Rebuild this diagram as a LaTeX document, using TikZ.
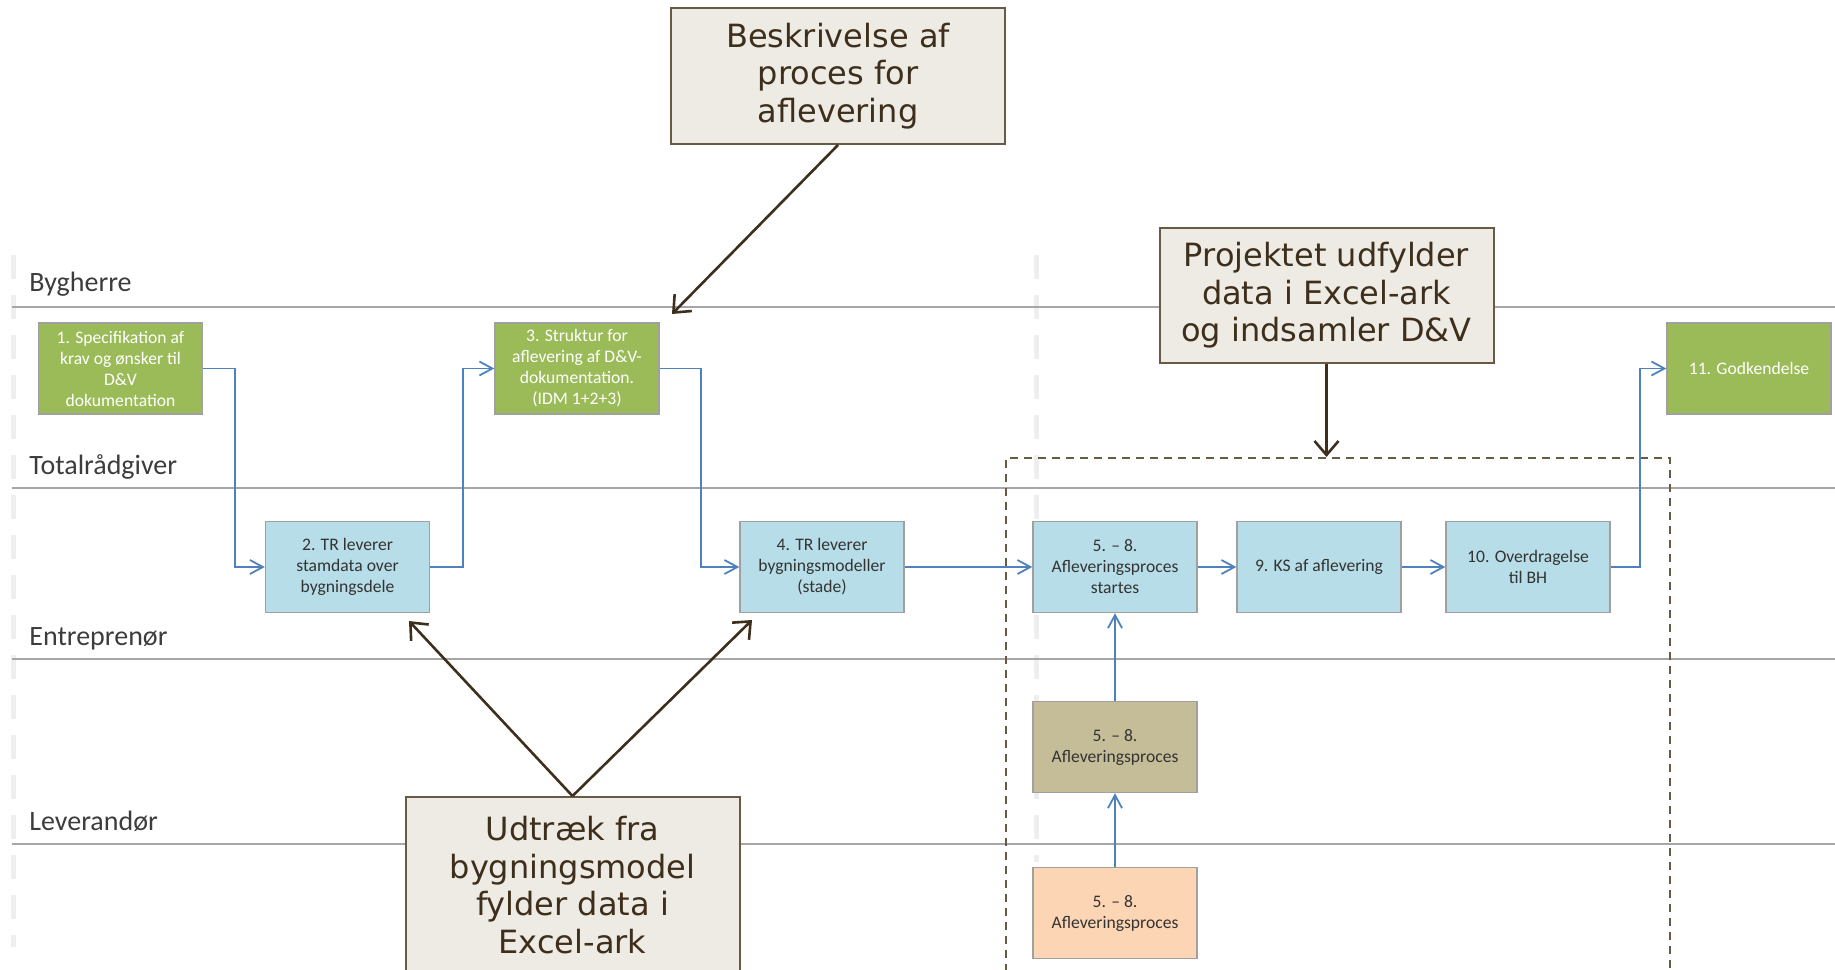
\documentclass[tikz,border=0pt]{standalone}
\usepackage{fontspec}
\setmainfont{Carlito}
\newfontfamily\callfont{DejaVu Sans}
\usetikzlibrary{arrows.meta,calc}
\definecolor{lane}{RGB}{166,166,166}
\definecolor{flowblue}{RGB}{79,129,189}
\definecolor{grn}{RGB}{155,187,89}
\definecolor{lblue}{RGB}{183,222,232}
\definecolor{olivebox}{RGB}{196,189,151}
\definecolor{peachbox}{RGB}{252,213,181}
\definecolor{callfill}{RGB}{238,235,228}
\definecolor{callline}{RGB}{105,90,70}
\definecolor{calltext}{RGB}{61,47,28}
\definecolor{boxline}{RGB}{160,160,160}
\definecolor{faint}{RGB}{238,238,238}
\definecolor{lanetext}{RGB}{60,60,60}
\begin{document}
\begin{tikzpicture}[x=0.5pt,y=-0.5pt,
  proc/.style={draw=boxline, line width=0.7pt, minimum width=82pt, minimum height=45.5pt,
    inner sep=1pt, align=center, font=\fontsize{8.8}{10.5}\selectfont, text=black!80},
  gbox/.style={proc, fill=grn, text=white},
  bbox/.style={proc, fill=lblue},
  obox/.style={proc, fill=olivebox},
  pbox/.style={proc, fill=peachbox},
  callout/.style={draw=callline, fill=callfill, line width=1pt, text=calltext,
    font=\callfont\fontsize{16}{18.75}\selectfont, align=center, inner sep=0pt,
    minimum width=167pt},
  flow/.style={draw=flowblue, line width=0.9pt, -{Straight Barb[length=6.5pt,width=7pt]}},
  callarrow/.style={draw=calltext, line width=1.3pt, -{Straight Barb[length=7pt,width=12pt]}},
  laneline/.style={draw=lane, line width=1pt},
  lanelabel/.style={anchor=base west, inner sep=0pt, text=lanetext, font=\fontsize{14}{16}\selectfont},
  faintdash/.style={draw=faint, line width=2.5pt, dash pattern=on 12pt off 8pt},
  areabox/.style={draw=callline, line width=0.75pt, dash pattern=on 4pt off 3pt}
]
\clip (0,0) rectangle (1835,969);

% faint vertical separators
\draw[faintdash] (13,255) -- (13,947);
\draw[faintdash] (1036,255) -- (1036,862);

% lane lines
\draw[laneline] (12,306.5) -- (1835,306.5);
\draw[laneline] (12,487.5) -- (1835,487.5);
\draw[laneline] (12,659) -- (1835,659);
\draw[laneline] (12,843.5) -- (1835,843.5);

% lane labels
\node[lanelabel] (lbyg) at (29,291) {Bygherre};
\node[lanelabel] (ltot) at (29,474) {Totalrådgiver};
\node[lanelabel] (lent) at (29,645) {Entreprenør};
\node[lanelabel] (llev) at (29,830) {Leverandør};

% dashed area
\node[areabox, anchor=north west, minimum width=332pt, minimum height=280pt, inner sep=0pt] (area) at (1005,457) {};

% process boxes
\node[gbox] (b1) at (120.5,368.5) {1. Specifikation af\\krav og ønsker til\\D\&V\\dokumentation};
\node[gbox] (b3) at (577,368.5) {3. Struktur for\\aflevering af D\&V-\\dokumentation.\\(IDM 1+2+3)};
\node[gbox] (b11) at (1749,368.5) {11. Godkendelse};
\node[bbox] (b2) at (347.5,567) {2. TR leverer\\stamdata over\\bygningsdele};
\node[bbox] (b4) at (822,567) {4. TR leverer\\bygningsmodeller\\(stade)};
\node[bbox] (b58) at (1115,567) {5. – 8.\\Afleveringsproces\\startes};
\node[bbox] (b9) at (1319,567) {9. KS af aflevering};
\node[bbox] (b10) at (1528,567) {10. Overdragelse\\til BH};
\node[obox] (ent) at (1115,747) {5. – 8.\\Afleveringsproces};
\node[pbox] (lev) at (1115,913) {5. – 8.\\Afleveringsproces};

% flow connectors
\draw[flow] (b1.east) -- ++(31.5,0) |- (b2.west);
\draw[flow] (b2.east) -- ++(33,0) |- (b3.west);
\draw[flow] (b3.east) -- ++(41,0) |- (b4.west);
\draw[flow] (b4) -- (b58);
\draw[flow] (b58) -- (b9);
\draw[flow] (b9) -- (b10);
\draw[flow] (b10.east) -- ++(29.5,0) |- (b11.west);
\draw[flow] (ent) -- (b58);
\draw[flow] (lev) -- (ent);

% callouts
\node[callout, minimum height=68pt] (besk) at (838,76) {Beskrivelse af\\proces for\\aflevering};
\node[callout, minimum height=67.5pt] (proj) at (1326.5,295.5) {Projektet udfylder\\data i Excel-ark\\og indsamler D\&V};
\node[callout, minimum height=88pt] (udt) at (572.5,885) {Udtræk fra\\bygningsmodel\\fylder data i\\Excel-ark};

\coordinate (t1) at (672,314);
\coordinate (t2) at (409,621);
\coordinate (t3) at (752,620);

\draw[callarrow] (besk.south) -- (t1);
\draw[callarrow] (proj.south) -- (proj.south |- area.north);
\draw[callarrow] (udt.north) -- (t2);
\draw[callarrow] (udt.north) -- (t3);
\end{tikzpicture}
\end{document}
